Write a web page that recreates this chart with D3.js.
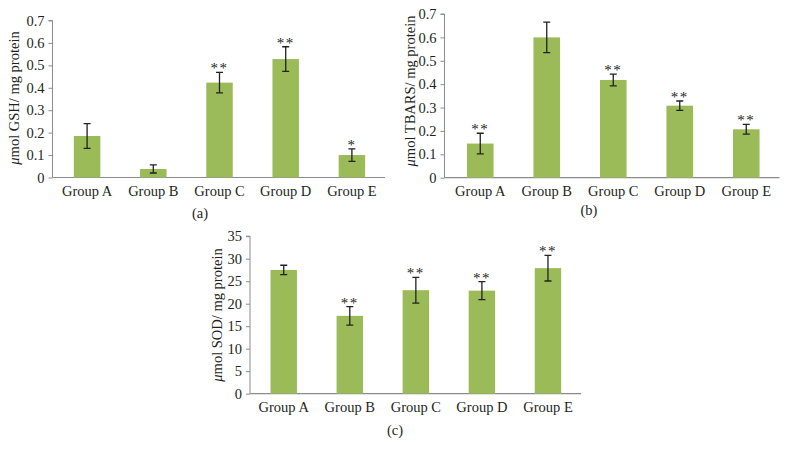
<!DOCTYPE html>
<html>
<head>
<meta charset="utf-8">
<script src="https://cdn.jsdelivr.net/npm/d3@7"></script>
<style>
  html, body { margin: 0; padding: 0; background: #fff; }
  svg { display: block; }
  text { font-family: "Liberation Serif", "DejaVu Serif", serif; fill: #231f20; }
</style>
</head>
<body>
<svg id="chart" width="787" height="456"></svg>
<script>
// ---- Data ----
const categories = ["Group A", "Group B", "Group C", "Group D", "Group E"];

const gshMean  = [0.185, 0.038, 0.423, 0.528, 0.100];
const gshErr   = [0.055, 0.018, 0.046, 0.055, 0.028];
const gshStars = ["", "", "**", "**", "*"];

const tbarsMean  = [0.146, 0.600, 0.418, 0.308, 0.207];
const tbarsErr   = [0.044, 0.065, 0.025, 0.020, 0.021];
const tbarsStars = ["**", "", "**", "**", "**"];

const sodMean  = [27.5, 17.3, 23.0, 22.9, 27.9];
const sodErr   = [1.05, 2.05, 2.85, 2.0, 2.85];
const sodStars = ["", "**", "**", "**", "**"];

const gshTicks   = [0, 0.1, 0.2, 0.3, 0.4, 0.5, 0.6, 0.7];
const tbarsTicks = [0, 0.1, 0.2, 0.3, 0.4, 0.5, 0.6, 0.7];
const sodTicks   = [0, 5, 10, 15, 20, 25, 30, 35];

const svg = d3.select("#chart");
const barColor = "#9bbb59";
const axisColor = "#8c8c8c";

function panel(opt) {
  const g = svg.append("g");
  const x = d3.scaleBand().domain(categories).range([opt.x0, opt.x1]).paddingInner(0.6).paddingOuter(0.3);
  const y = d3.scaleLinear().domain([0, opt.max]).range([opt.y0, opt.y1]);

  // y axis
  const ya = g.append("g").attr("transform", `translate(${opt.ax},0)`)
    .call(d3.axisLeft(y).tickValues(opt.ticks).tickSize(4).tickPadding(4)
      .tickFormat(d => d3.format(opt.fmt)(d)));
  ya.select(".domain").attr("stroke", axisColor).attr("d", `M-4,${y(opt.max)}H0V${y(0)}`);
  ya.selectAll(".tick line").attr("stroke", axisColor);
  ya.selectAll(".tick text").style("font-size", "14.5px").attr("fill", "#231f20");

  // x axis
  const xa = g.append("g").attr("transform", `translate(0,${y(0)})`)
    .call(d3.axisBottom(x).tickSize(0).tickPadding(8));
  xa.select(".domain").attr("stroke", axisColor).attr("stroke-width", 1.2)
    .attr("d", `M${opt.ax},0H${opt.x1}`);
  xa.selectAll(".tick text").style("font-size", "14.5px").attr("fill", "#231f20");

  // bars
  g.selectAll("rect.bar").data(opt.mean).join("rect")
    .attr("class", "bar")
    .attr("x", (d, i) => x(categories[i]))
    .attr("width", x.bandwidth())
    .attr("y", d => y(d))
    .attr("height", d => y(0) - y(d))
    .attr("fill", barColor);

  // error bars
  const eb = g.selectAll("g.err").data(opt.mean).join("g").attr("class", "err");
  const cx = i => x(categories[i]) + x.bandwidth() / 2;
  eb.append("path")
    .attr("d", (d, i) => {
      const t = y(d + opt.err[i]), b = y(d - opt.err[i]), c = cx(i);
      return `M${c},${t}V${b}M${c - 3.5},${t}H${c + 3.5}M${c - 3.5},${b}H${c + 3.5}`;
    })
    .attr("stroke", "#222").attr("stroke-width", 1.3).attr("fill", "none");

  // significance stars
  g.selectAll("text.star").data(opt.stars).join("text")
    .attr("class", "star")
    .attr("x", (d, i) => cx(i))
    .attr("y", (d, i) => y(opt.mean[i] + opt.err[i]) + 1)
    .attr("text-anchor", "middle")
    .style("font-size", "15px")
    .style("letter-spacing", "1.5px")
    .attr("fill", "#555")
    .text(d => d);

  // y title
  const t = g.append("text")
    .attr("transform", `translate(${opt.tx},${opt.ty}) rotate(-90)`)
    .attr("text-anchor", "middle")
    .attr("dy", "0.35em")
    .style("font-size", "14.5px");
  t.append("tspan").style("font-style", "italic").text("μ");
  t.append("tspan").text(opt.title);

  // panel label
  g.append("text")
    .attr("x", opt.lx).attr("y", opt.ly)
    .attr("text-anchor", "middle").attr("dy", "0.35em")
    .style("font-size", "14.5px")
    .text(opt.label);
}

panel({ mean: gshMean, err: gshErr, stars: gshStars, ticks: gshTicks, max: 0.7, fmt: "~g",
  ax: 52.5, x0: 54, x1: 385, y0: 177.5, y1: 20.5,
  title: "mol GSH/ mg protein", tx: 14, ty: 98, label: "(a)", lx: 200, ly: 213 });

panel({ mean: tbarsMean, err: tbarsErr, stars: tbarsStars, ticks: tbarsTicks, max: 0.7, fmt: "~g",
  ax: 444.5, x0: 447, x1: 779.5, y0: 177.7, y1: 14,
  title: "mol TBARS/ mg protein", tx: 410, ty: 91, label: "(b)", lx: 589, ly: 210 });

panel({ mean: sodMean, err: sodErr, stars: sodStars, ticks: sodTicks, max: 35, fmt: "d",
  ax: 250, x0: 250.7, x1: 581, y0: 393.7, y1: 236.2,
  title: "mol SOD/ mg protein", tx: 217, ty: 315, label: "(c)", lx: 395, ly: 430 });
</script>
</body>
</html>
